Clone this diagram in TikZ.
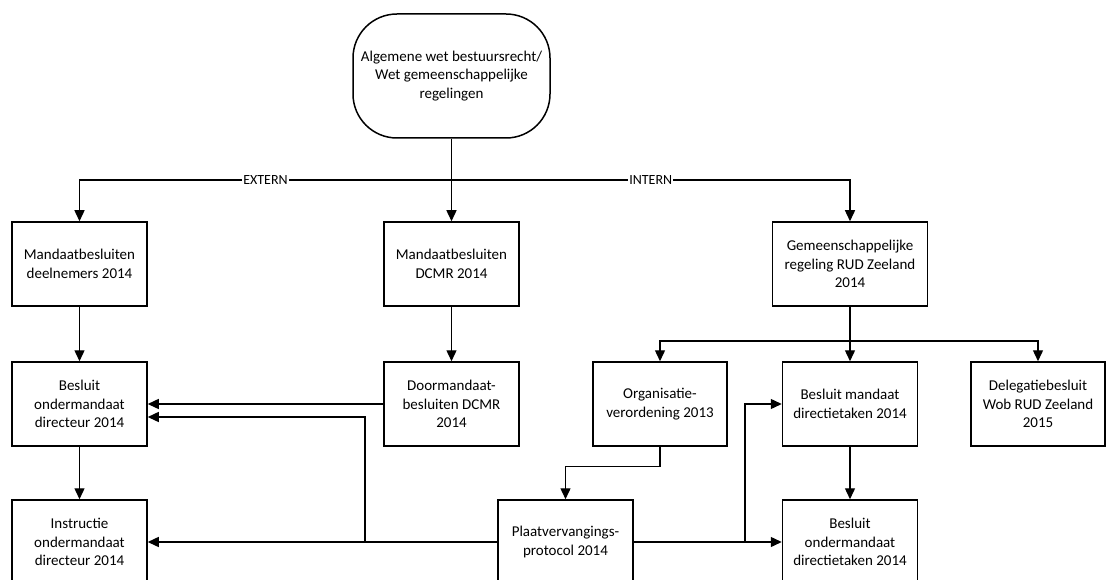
\documentclass[tikz,border=0pt]{standalone}
\usepackage{fontspec}
\setmainfont{Carlito}
\usetikzlibrary{arrows.meta}

\begin{document}
\begin{tikzpicture}[x=1pt,y=-1pt,
        blok/.style={draw,line width=1.5pt,fill=white,align=center,
            minimum width=135pt,minimum height=84pt,inner sep=2pt,
            font=\fontsize{15}{18.5}\selectfont},
        pijl/.style={line width=1.4pt,-{Triangle[length=11pt,width=10pt]}},
        etiket/.style={fill=white,inner sep=1pt,font=\fontsize{14}{16}\selectfont}]
            \useasboundingbox (0,0) rectangle (1106,580);
            \clip (0,0) rectangle (1106,580);

            % bron
            \node[draw,line width=1.5pt,fill=white,rounded corners=44pt,
                minimum width=197pt,minimum height=124pt,align=center,
                font=\fontsize{15}{18.5}\selectfont] (awb) at (451.5,76)
                {Algemene wet bestuursrecht/\\Wet gemeenschappelijke\\regelingen};

            % rij 1
            \node[blok] (mdn) at (79.5,264) {Mandaatbesluiten\\deelnemers 2014};
            \node[blok] (mdc) at (451.5,264) {Mandaatbesluiten\\DCMR 2014};
            \node[blok,minimum width=155pt] (grr) at (850,264) {Gemeenschappelijke\\regeling RUD Zeeland\\2014};

            % rij 2
            \node[blok] (bod) at (79.5,404) {Besluit\\ondermandaat\\directeur 2014};
            \node[blok] (dmb) at (451.5,404) {Doormandaat-\\besluiten DCMR\\2014};
            \node[blok,minimum width=134pt] (org) at (660,404) {Organisatie-\\verordening 2013};
            \node[blok] (bmd) at (850,404) {Besluit mandaat\\directietaken 2014};
            \node[blok,minimum width=134pt] (dlg) at (1038,404) {Delegatiebesluit\\Wob RUD Zeeland\\2015};

            % rij 3
            \node[blok] (iod) at (79.5,542) {Instructie\\ondermandaat\\directeur 2014};
            \node[blok] (pvp) at (565.5,542) {Plaatvervangings-\\protocol 2014};
            \node[blok] (bdt) at (850,542) {Besluit\\ondermandaat\\directietaken 2014};

            \coordinate (splits) at (451.5,180);
            \coordinate (splits2) at (850,341);
            \coordinate (knik1) at (365,542);
            \coordinate (knik2) at (745,542);

            \draw[pijl] (awb) -- (mdc);
            \draw[pijl] (splits) -| node[etiket,pos=0.25] {EXTERN} (mdn);
            \draw[pijl] (splits) -| node[etiket,pos=0.25] {INTERN} (grr);

            \draw[pijl] (mdn) -- (bod);
            \draw[pijl] (bod) -- (iod);
            \draw[pijl] (mdc) -- (dmb);
            \draw[pijl] (dmb) -- (bod);
            \draw[pijl] (pvp) -- (iod);
            \draw[pijl] (knik1) |- ([yshift=-13pt]bod.east);

            \draw[pijl] (grr) -- (bmd);
            \draw[pijl] (splits2) -| (org);
            \draw[pijl] (splits2) -| (dlg);
            \draw[pijl] (org.south) -- ++(0,20) -| (pvp.north);
            \draw[pijl] (pvp) -- (bdt);
            \draw[pijl] (knik2) |- (bmd);
            \draw[pijl] (bmd) -- (bdt);
        \end{tikzpicture}
\end{document}
